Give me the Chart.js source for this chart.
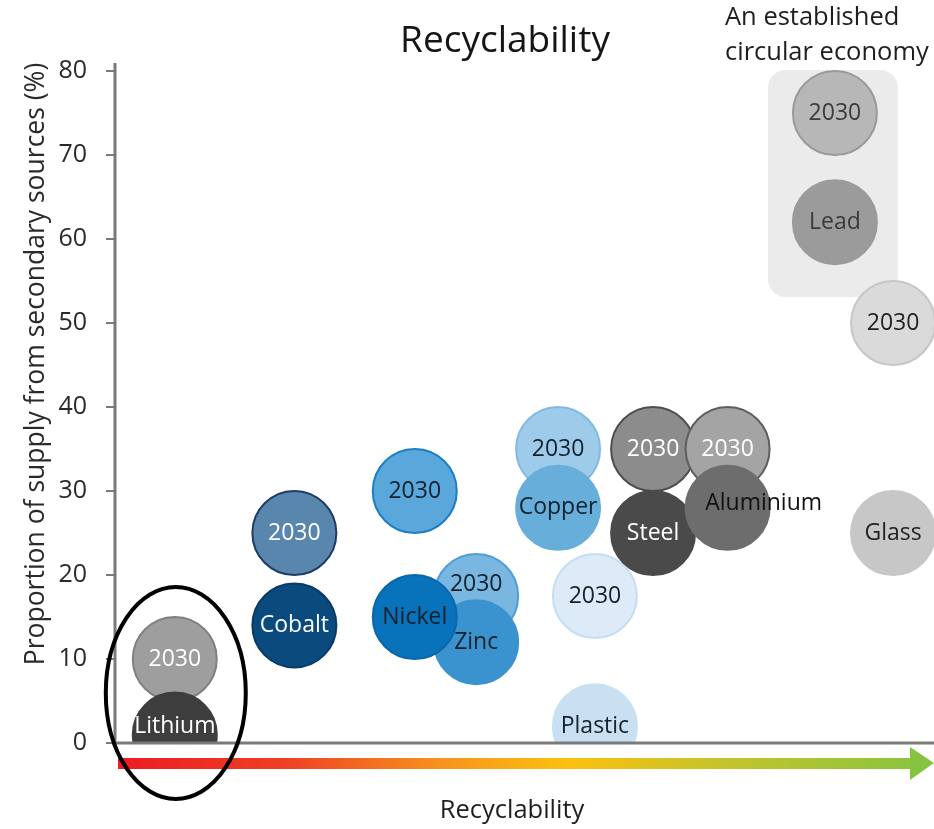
<!DOCTYPE html>
<html lang="en">
<head>
    <meta charset="UTF-8">
    <title>Recyclability</title>
    <script src="https://cdn.jsdelivr.net/npm/chart.js"></script>
    <style>
        * { margin: 0; padding: 0; box-sizing: border-box; }
        body { background: #ffffff; width: 934px; height: 829px; overflow: hidden; }
        .wrap { position: relative; width: 934px; height: 829px; }
    </style>
</head>
<body>
    <div class="wrap">
        <canvas id="chart" width="934" height="829"></canvas>
    </div>

    <script>
        // Data
        const materials = ['Lithium', 'Cobalt', 'Zinc', 'Nickel', 'Copper', 'Plastic', 'Steel', 'Aluminium', 'Lead', 'Glass'];
        const recyclability = [7.3, 21.9, 44.1, 36.6, 54.1, 58.6, 65.7, 74.8, 87.9, 95.0];
        const shareToday = [1, 14, 12, 15, 28, 2, 25, 28, 62, 25];
        const share2030 = [10, 25, 17.5, 30, 35, 17.5, 35, 35, 75, 50];
        const yTicks = [0, 10, 20, 30, 40, 50, 60, 70, 80];

        // Styles
        const FONT = '"Open Sans", "Noto Sans", sans-serif';
        const todayFill = ['#3e3e3e', '#0b4a7d', '#3a93cf', '#0872ba', '#67aedb', '#c9e0f2', '#4a4a4a', '#6d6d6d', '#9b9b9b', '#c7c7c7'];
        const todayBorder = ['#3e3e3e', '#0a3b66', '#3a93cf', '#0868ab', '#67aedb', '#c9e0f2', '#4a4a4a', '#6d6d6d', '#9b9b9b', '#c7c7c7'];
        const todayText = ['#ffffff', '#ffffff', '#14202c', '#14202c', '#14202c', '#14202c', '#ffffff', '#111111', '#3a3a3a', '#222222'];
        const fill2030 = ['rgba(150,150,150,0.92)', '#5886ad', '#79b7e0', '#5aa7dc', '#9fcbea', '#dcebf7', '#8c8c8c', '#a4a4a4', '#b7b7b7', '#dadada'];
        const border2030 = ['#808080', '#1f3c68', '#4b9fd4', '#1b7dc2', '#80bbe3', '#c6def1', '#4e4e4e', '#5e5e5e', '#9a9a9a', '#c6c6c6'];
        const text2030 = ['#ffffff', '#ffffff', '#14202c', '#14202c', '#14202c', '#14202c', '#ffffff', '#ffffff', '#3a3a3a', '#222222'];
        const labelShift = { 'today:Lithium': [0, -8], 'today:Aluminium': [36, -4], '2030:Zinc': [0, -12] };

        const R = 42;

        const todayPoints = materials.map((m, i) => ({ x: recyclability[i], y: shareToday[i], r: R }));
        const points2030 = materials.map((m, i) => ({ x: recyclability[i], y: share2030[i], r: R }));

        // Decorations: title, axis lines, circular-economy box, arrow, ellipse
        const decorations = {
            id: 'decorations',
            beforeDatasetsDraw(chart) {
                const ctx = chart.ctx;
                const xs = chart.scales.x;
                const area = chart.chartArea;

                // light box behind lead
                const lx = xs.getPixelForValue(recyclability[materials.indexOf('Lead')]);
                ctx.save();
                ctx.fillStyle = 'rgba(228,228,228,0.75)';
                ctx.beginPath();
                ctx.roundRect(lx - 67, area.top - 1, 130, 227, 18);
                ctx.fill();
                ctx.restore();
            },
            afterDatasetsDraw(chart) {
                const ctx = chart.ctx;
                const area = chart.chartArea;
                ctx.save();
                // axes
                ctx.strokeStyle = '#7a7a7a';
                ctx.lineWidth = 3;
                ctx.beginPath();
                ctx.moveTo(area.left, area.top - 8);
                ctx.lineTo(area.left, area.bottom);
                ctx.lineTo(934, area.bottom);
                ctx.stroke();
                ctx.restore();
            },
            afterDraw(chart) {
                const ctx = chart.ctx;
                const xs = chart.scales.x;
                ctx.save();

                // title
                ctx.fillStyle = '#151515';
                ctx.textAlign = 'center';
                ctx.textBaseline = 'middle';
                ctx.font = '37px ' + FONT;
                ctx.fillText('Recyclability', 505, 41);

                // annotation
                ctx.textAlign = 'left';
                ctx.font = '25.5px ' + FONT;
                ctx.fillStyle = '#1e1e1e';
                ctx.fillText('An established', 725, 18);
                ctx.fillText('circular economy', 725, 53);

                // y axis title
                ctx.save();
                ctx.translate(36, 364);
                ctx.rotate(-Math.PI / 2);
                ctx.textAlign = 'center';
                ctx.font = '26.5px ' + FONT;
                ctx.fillStyle = '#2a2a2a';
                ctx.fillText('Proportion of supply from secondary sources (%)', 0, 0);
                ctx.restore();

                // gradient arrow
                const g = ctx.createLinearGradient(118, 0, 934, 0);
                g.addColorStop(0, '#ec1c24');
                g.addColorStop(0.2, '#ef3e24');
                g.addColorStop(0.4, '#f7941d');
                g.addColorStop(0.55, '#fcc010');
                g.addColorStop(0.75, '#c2c42c');
                g.addColorStop(1, '#86c440');
                ctx.fillStyle = g;
                ctx.fillRect(118, 758, 794, 11);
                ctx.beginPath();
                ctx.moveTo(910, 747);
                ctx.lineTo(934, 763);
                ctx.lineTo(910, 780);
                ctx.closePath();
                ctx.fillStyle = '#86c440';
                ctx.fill();

                // x axis label
                ctx.textAlign = 'center';
                ctx.fillStyle = '#1e1e1e';
                ctx.font = '25.5px ' + FONT;
                ctx.fillText('Recyclability', 512, 811);

                // ellipse round lithium
                const lix = xs.getPixelForValue(recyclability[materials.indexOf('Lithium')]);
                ctx.strokeStyle = '#000000';
                ctx.lineWidth = 4;
                ctx.beginPath();
                ctx.ellipse(lix + 1, 693, 70, 106, 0, 0, Math.PI * 2);
                ctx.stroke();

                ctx.restore();
            }
        };

        // bubble labels
        const bubbleLabels = {
            id: 'bubbleLabels',
            afterDatasetsDraw(chart) {
                const ctx = chart.ctx;
                ctx.save();
                ctx.font = '23px ' + FONT;
                ctx.textAlign = 'center';
                ctx.textBaseline = 'middle';
                const sets = [
                    { idx: 1, key: '2030', colors: text2030, text: () => '2030' },
                    { idx: 0, key: 'today', colors: todayText, text: (i) => materials[i] }
                ];
                sets.forEach(s => {
                    const meta = chart.getDatasetMeta(s.idx);
                    meta.data.forEach((el, i) => {
                        const shift = labelShift[s.key + ':' + materials[i]] || [0, 0];
                        ctx.fillStyle = s.colors[i];
                        ctx.fillText(s.text(i), el.x + shift[0], el.y + shift[1]);
                    });
                });
                ctx.restore();
            }
        };

        new Chart(document.getElementById('chart'), {
            type: 'bubble',
            data: {
                datasets: [
                    {
                        label: 'Today',
                        data: todayPoints,
                        backgroundColor: todayFill,
                        borderColor: todayBorder,
                        borderWidth: 2,
                        clip: { left: 60, top: 60, right: 60, bottom: 0 }
                    },
                    {
                        label: '2030',
                        data: points2030,
                        backgroundColor: fill2030,
                        borderColor: border2030,
                        borderWidth: 2,
                        clip: { left: 60, top: 60, right: 60, bottom: 0 }
                    }
                ]
            },
            options: {
                responsive: false,
                animation: false,
                layout: { autoPadding: false, padding: { left: 0, top: 71, right: 0, bottom: 86 } },
                plugins: {
                    legend: { display: false },
                    tooltip: { enabled: false },
                    title: { display: false }
                },
                elements: { point: { hoverRadius: 0 } },
                scales: {
                    x: { type: 'linear', min: 0, max: 100, display: false },
                    y: {
                        type: 'linear',
                        min: 0,
                        max: 80,
                        afterFit: (scale) => { scale.width = 115; },
                        afterBuildTicks: (scale) => { scale.ticks = yTicks.map(v => ({ value: v })); },
                        border: { display: false },
                        grid: { drawOnChartArea: false, color: '#7a7a7a', lineWidth: 2, tickLength: 9 },
                        ticks: { padding: 19, color: '#2a2a2a', font: { family: FONT, size: 25 } }
                    }
                }
            },
            plugins: [decorations, bubbleLabels]
        });
    </script>
</body>
</html>
